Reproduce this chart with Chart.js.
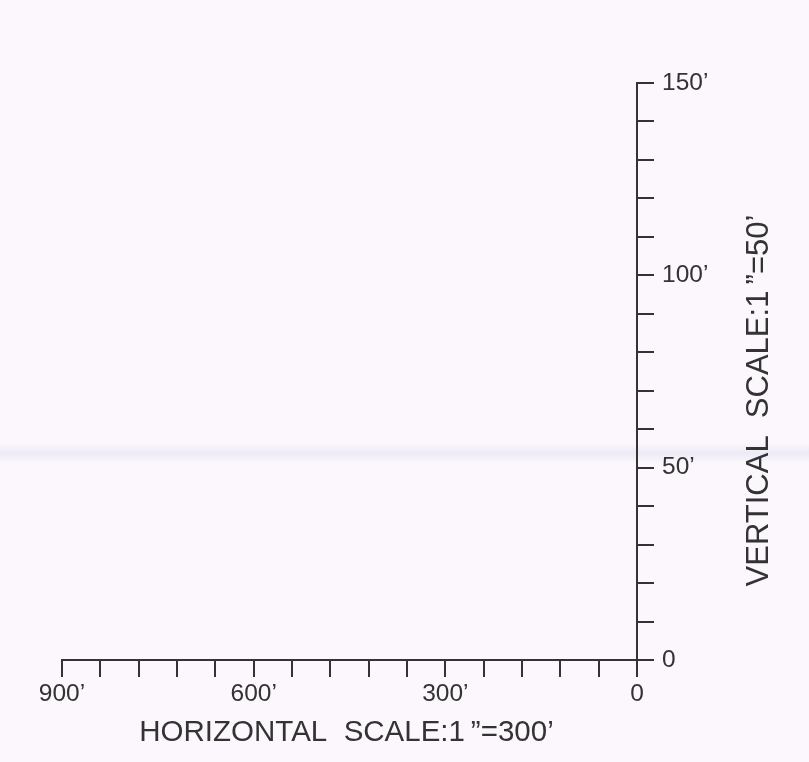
<!DOCTYPE html>
<html>
<head>
<meta charset="utf-8">
<script src="https://cdn.jsdelivr.net/npm/chart.js@4"></script>
<style>
  html, body { margin: 0; padding: 0; }
  body {
    width: 809px; height: 762px; overflow: hidden;
    background: linear-gradient(to bottom, #fbf7fc 0px, #fbf7fc 443px, #eceaf5 453px, #fbf7fc 463px, #fbf7fc 762px);
  }
  #wrap { width: 809px; height: 762px; }
</style>
</head>
<body>
<div id="wrap"><canvas id="scaleChart" width="809" height="762"></canvas></div>
<script>
// scale bar values
const xMin = 0;
const xMax = 900;
const xStep = 60;
const xLabeled = [0, 300, 600, 900];

const yMin = 0;
const yMax = 150;
const yStep = 10;
const yLabeled = [0, 50, 100, 150];

const hTitle = "HORIZONTAL  SCALE:1\u2009\u201D=300\u2019";
const vTitle = "VERTICAL  SCALE:1\u2009\u201D=50\u2019";

const ink = "#333333";

function feet(v, labeled) {
    if (!labeled.includes(v)) return "";
    return v === 0 ? "0" : v + "\u2019";
}

// titles drawn next to the axes
const scaleTitles = {
    id: "scaleTitles",
    afterDraw(chart) {
        const ctx = chart.ctx;
        const a = chart.chartArea;
        ctx.save();
        ctx.fillStyle = ink;
        ctx.textAlign = "center";
        ctx.textBaseline = "middle";
        ctx.font = "29.5px 'Liberation Sans', Arial, sans-serif";
        ctx.fillText(hTitle, (a.left + a.right) / 2 - 3, a.bottom + 73);

        ctx.font = "31px 'Liberation Sans', Arial, sans-serif";
        ctx.translate(a.right + 122, (a.top + a.bottom) / 2 + 29);
        ctx.rotate(-Math.PI / 2);
        ctx.fillText(vTitle, 0, 0);
        ctx.restore();
    }
};

const ctx = document.getElementById("scaleChart").getContext("2d");

new Chart(ctx, {
    type: "scatter",
    data: {
        datasets: [
            { data: [] }
        ]
    },
    options: {
        responsive: false,
        animation: false,
        devicePixelRatio: 1,
        layout: {
            padding: { left: 62, top: 83, right: 0, bottom: 0 }
        },
        plugins: {
            legend: { display: false },
            tooltip: { enabled: false }
        },
        scales: {
            x: {
                type: "linear",
                reverse: true,
                min: xMin,
                max: xMax,
                afterFit: s => { s.height = 102; },
                border: { display: true, color: ink, width: 2 },
                grid: {
                    drawOnChartArea: false,
                    drawTicks: true,
                    tickLength: 17,
                    color: ink,
                    lineWidth: 2
                },
                ticks: {
                    stepSize: xStep,
                    maxTicksLimit: 30,
                    autoSkip: false,
                    maxRotation: 0,
                    padding: 3,
                    color: ink,
                    font: { family: "'Liberation Sans', Arial, sans-serif", size: 24.5 },
                    callback: v => feet(v, xLabeled)
                }
            },
            y: {
                type: "linear",
                position: "right",
                min: yMin,
                max: yMax,
                afterFit: s => { s.width = 172; },
                border: { display: true, color: ink, width: 2 },
                grid: {
                    drawOnChartArea: false,
                    drawTicks: true,
                    tickLength: 17,
                    color: ink,
                    lineWidth: 2
                },
                ticks: {
                    stepSize: yStep,
                    maxTicksLimit: 30,
                    autoSkip: false,
                    padding: 8,
                    color: ink,
                    font: { family: "'Liberation Sans', Arial, sans-serif", size: 24.5 },
                    callback: v => feet(v, yLabeled)
                }
            }
        }
    },
    plugins: [scaleTitles]
});
</script>
</body>
</html>
